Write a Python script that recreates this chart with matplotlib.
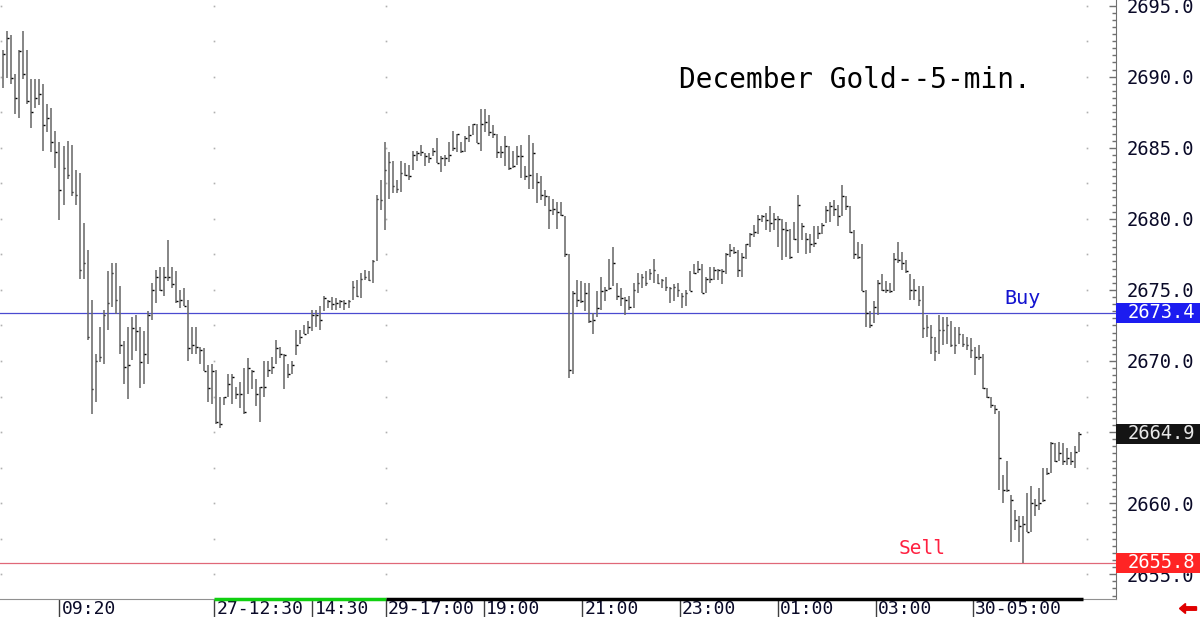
import numpy as np
import matplotlib.pyplot as plt
from matplotlib import transforms
from matplotlib.patches import Rectangle, FancyArrow

# 5-minute bars, December gold (high / low / close)
highs = [
    2691.9, 2693.2, 2692.9, 2690.2, 2691.9, 2693.2, 2691.9, 2689.8, 2689.8, 2689.8,
    2689.5, 2688.1, 2687.8, 2686.2, 2685.4, 2685.1, 2685.5, 2685.2, 2683.4, 2683.2,
    2679.7, 2677.8, 2674.3, 2670.5, 2672.4, 2673.6, 2676.3, 2676.9, 2676.9, 2675.3,
    2671.4, 2672.4, 2673.1, 2673.2, 2672.4, 2672.1, 2673.5, 2675.5, 2676.4, 2676.6,
    2676.6, 2678.5, 2676.6, 2676.3, 2675.0, 2675.1, 2674.3, 2672.4, 2672.4, 2671.0,
    2670.9, 2669.7, 2669.8, 2669.4, 2667.5, 2667.5, 2669.1, 2669.1, 2668.2, 2668.5,
    2669.5, 2670.2, 2669.4, 2668.7, 2668.2, 2670.0, 2670.0, 2670.3, 2671.5, 2671.0,
    2670.5, 2669.8, 2670.0, 2672.2, 2672.2, 2672.5, 2672.8, 2673.6, 2673.6, 2673.9,
    2674.6, 2674.3, 2674.5, 2674.4, 2674.3, 2674.3, 2674.3, 2675.6, 2675.7, 2676.2,
    2676.4, 2676.3, 2677.1, 2681.7, 2682.7, 2685.4, 2684.7, 2684.1, 2682.7, 2684.1,
    2683.9, 2683.8, 2684.8, 2684.8, 2685.2, 2684.6, 2684.6, 2685.0, 2685.7, 2684.4,
    2684.5, 2685.4, 2686.2, 2686.0, 2685.4, 2685.8, 2686.5, 2686.7, 2686.7, 2687.7,
    2687.7, 2687.3, 2686.6, 2686.0, 2685.1, 2685.8, 2685.1, 2684.8, 2685.1, 2685.2,
    2683.7, 2685.9, 2685.3, 2683.2, 2683.0, 2682.0, 2681.6, 2681.4, 2681.2, 2681.2,
    2680.2, 2677.5, 2674.9, 2675.7, 2675.6, 2675.5, 2675.5, 2673.4, 2674.9, 2675.9,
    2675.2, 2677.2, 2678.0, 2675.5, 2675.1, 2674.5, 2674.6, 2675.5, 2676.2, 2676.1,
    2676.3, 2676.5, 2677.2, 2676.1, 2675.8, 2675.9, 2675.2, 2675.4, 2675.5, 2674.8,
    2675.0, 2676.3, 2676.8, 2677.0, 2676.8, 2675.9, 2676.6, 2676.6, 2676.5, 2676.5,
    2677.6, 2678.2, 2678.0, 2677.8, 2677.6, 2678.2, 2679.0, 2679.6, 2680.3, 2680.3,
    2680.4, 2680.9, 2680.4, 2680.2, 2680.0, 2679.8, 2679.3, 2679.8, 2681.7, 2679.7,
    2679.0, 2678.9, 2679.5, 2679.5, 2679.7, 2680.9, 2681.2, 2681.3, 2681.0, 2682.4,
    2681.6, 2680.9, 2679.2, 2678.4, 2678.2, 2675.0, 2673.5, 2674.2, 2675.7, 2676.1,
    2675.6, 2675.5, 2677.6, 2678.4, 2677.7, 2677.1, 2676.1, 2675.8, 2675.3, 2675.3,
    2673.2, 2672.5, 2671.7, 2673.2, 2673.1, 2673.1, 2672.8, 2672.4, 2672.4, 2671.9,
    2671.7, 2671.6, 2671.0, 2671.1, 2670.5, 2668.1, 2667.5, 2666.9, 2666.5, 2662.0,
    2663.0, 2660.6, 2659.5, 2659.1, 2659.1, 2660.7, 2661.2, 2660.3, 2661.1, 2662.5,
    2662.5, 2664.3, 2664.2, 2664.3, 2664.2, 2663.9, 2663.6, 2664.0, 2665.0,
]
lows = [
    2689.2, 2689.9, 2689.5, 2687.4, 2687.1, 2689.8, 2688.1, 2686.4, 2687.8, 2688.0,
    2684.8, 2686.1, 2684.7, 2683.6, 2679.9, 2681.0, 2682.8, 2681.6, 2681.0, 2675.8,
    2675.8, 2671.5, 2666.3, 2667.1, 2669.9, 2669.8, 2672.2, 2673.8, 2673.3, 2670.5,
    2668.4, 2667.3, 2670.1, 2670.7, 2668.1, 2668.4, 2669.8, 2672.9, 2674.1, 2674.9,
    2674.6, 2675.6, 2675.1, 2674.1, 2673.7, 2673.9, 2670.0, 2670.5, 2670.5, 2669.8,
    2669.3, 2667.1, 2667.0, 2665.6, 2665.3, 2666.9, 2667.5, 2667.0, 2667.3, 2666.7,
    2666.3, 2667.7, 2668.0, 2666.8, 2665.7, 2667.5, 2668.9, 2669.1, 2669.8, 2670.2,
    2668.0, 2668.8, 2669.1, 2670.4, 2671.2, 2671.9, 2671.9, 2672.1, 2672.4, 2672.2,
    2673.5, 2673.7, 2673.6, 2673.6, 2673.7, 2673.6, 2673.7, 2674.3, 2674.5, 2674.4,
    2675.7, 2675.6, 2675.5, 2677.0, 2680.6, 2679.2, 2681.4, 2681.8, 2681.8, 2681.9,
    2683.0, 2682.7, 2683.4, 2684.1, 2684.4, 2683.7, 2683.9, 2684.4, 2683.9, 2683.3,
    2683.7, 2684.0, 2684.8, 2684.7, 2684.6, 2684.7, 2685.4, 2685.9, 2685.3, 2684.8,
    2686.1, 2685.8, 2685.7, 2684.3, 2684.3, 2683.7, 2683.4, 2683.6, 2683.8, 2682.9,
    2682.7, 2682.1, 2682.1, 2681.1, 2681.3, 2680.9, 2679.3, 2680.3, 2679.3, 2680.2,
    2677.3, 2668.8, 2669.1, 2673.8, 2674.1, 2673.5, 2672.7, 2671.9, 2673.1, 2673.6,
    2674.2, 2675.0, 2675.3, 2674.3, 2673.9, 2673.2, 2673.6, 2673.7, 2674.8, 2675.1,
    2675.3, 2675.7, 2675.5, 2675.4, 2675.1, 2674.9, 2674.1, 2674.2, 2674.5, 2673.7,
    2673.9, 2674.9, 2676.1, 2676.2, 2674.8, 2674.8, 2675.5, 2675.7, 2675.7, 2675.4,
    2676.1, 2677.3, 2677.5, 2675.9, 2675.9, 2677.2, 2678.0, 2678.7, 2678.9, 2679.8,
    2679.2, 2679.1, 2679.2, 2678.0, 2677.1, 2677.3, 2677.2, 2678.5, 2677.6, 2678.5,
    2677.5, 2677.6, 2678.0, 2678.6, 2678.9, 2679.7, 2679.8, 2680.2, 2679.5, 2680.2,
    2680.6, 2679.0, 2677.2, 2677.2, 2674.9, 2672.4, 2672.3, 2672.7, 2673.2, 2674.9,
    2674.8, 2674.8, 2674.9, 2676.9, 2676.4, 2676.2, 2674.3, 2674.3, 2673.9, 2671.6,
    2671.7, 2670.5, 2670.0, 2670.5, 2671.1, 2671.2, 2671.0, 2670.5, 2671.2, 2671.0,
    2670.8, 2670.2, 2669.0, 2670.1, 2668.0, 2667.4, 2666.7, 2666.3, 2660.9, 2660.0,
    2660.8, 2657.3, 2658.1, 2657.3, 2655.8, 2658.0, 2658.0, 2659.1, 2659.5, 2660.1,
    2662.0, 2662.1, 2662.9, 2663.0, 2662.7, 2662.7, 2662.7, 2662.5, 2663.6,
]
closes = [
    2691.6, 2692.7, 2689.9, 2688.5, 2691.8, 2690.2, 2688.3, 2687.5, 2688.5, 2688.8,
    2686.6, 2687.1, 2685.4, 2684.7, 2682.0, 2683.6, 2683.1, 2681.9, 2681.7, 2676.4,
    2676.9, 2671.7, 2668.0, 2670.0, 2670.3, 2673.2, 2674.1, 2676.2, 2674.3, 2671.1,
    2669.6, 2669.7, 2672.3, 2672.1, 2669.9, 2670.5, 2673.2, 2675.0, 2675.9, 2675.0,
    2675.9, 2675.9, 2675.4, 2674.2, 2674.3, 2673.9, 2670.9, 2671.1, 2671.0, 2670.8,
    2669.3, 2668.1, 2669.3, 2665.7, 2665.6, 2667.5, 2668.4, 2668.9, 2667.7, 2667.7,
    2666.4, 2669.5, 2669.3, 2667.7, 2668.2, 2668.2, 2669.4, 2669.6, 2670.9, 2670.5,
    2670.4, 2669.1, 2669.7, 2671.1, 2671.7, 2671.9, 2672.4, 2673.2, 2673.2, 2672.9,
    2674.4, 2674.2, 2674.0, 2674.1, 2674.2, 2674.1, 2674.2, 2675.2, 2674.6, 2675.8,
    2675.9, 2675.7, 2677.0, 2681.4, 2681.3, 2683.4, 2684.0, 2682.3, 2682.1, 2683.2,
    2683.1, 2683.0, 2684.5, 2684.6, 2684.7, 2684.4, 2684.3, 2684.8, 2683.9, 2684.3,
    2684.3, 2684.5, 2685.0, 2686.0, 2684.8, 2685.7, 2685.9, 2686.7, 2685.3, 2686.7,
    2686.8, 2686.1, 2686.0, 2684.7, 2684.7, 2685.1, 2683.6, 2683.7, 2684.4, 2684.4,
    2683.0, 2683.1, 2684.6, 2682.6, 2681.7, 2681.6, 2680.6, 2680.7, 2680.5, 2680.3,
    2677.5, 2669.4, 2674.8, 2674.3, 2674.2, 2674.8, 2672.8, 2672.9, 2673.7, 2674.9,
    2675.0, 2675.1, 2676.9, 2674.6, 2674.4, 2674.3, 2673.8, 2675.0, 2675.5, 2675.9,
    2675.5, 2676.2, 2676.4, 2675.5, 2675.7, 2675.2, 2675.1, 2675.2, 2675.0, 2674.6,
    2674.8, 2674.9, 2676.2, 2676.5, 2674.8, 2675.8, 2675.8, 2676.4, 2676.4, 2676.3,
    2677.5, 2677.8, 2677.7, 2676.4, 2677.3, 2678.2, 2678.9, 2679.1, 2680.0, 2680.2,
    2679.9, 2679.7, 2680.0, 2680.0, 2679.3, 2679.2, 2677.3, 2678.6, 2681.0, 2679.5,
    2678.6, 2678.2, 2678.3, 2679.0, 2679.6, 2680.6, 2680.9, 2680.7, 2680.2, 2681.6,
    2680.9, 2679.1, 2677.5, 2677.3, 2674.9, 2673.4, 2672.5, 2673.8, 2675.5, 2675.0,
    2675.0, 2674.9, 2677.2, 2677.1, 2676.9, 2676.3, 2675.0, 2675.0, 2674.3, 2672.3,
    2672.4, 2671.7, 2670.7, 2672.2, 2672.2, 2672.5, 2671.1, 2671.1, 2671.9, 2671.2,
    2671.1, 2670.8, 2670.3, 2670.3, 2668.1, 2667.5, 2666.9, 2666.6, 2663.2, 2660.9,
    2660.9, 2660.2, 2658.8, 2658.4, 2658.5, 2658.0, 2660.0, 2659.9, 2660.0, 2660.2,
    2662.1, 2664.2, 2663.0, 2663.5, 2663.0, 2663.2, 2663.0, 2663.6, 2664.9,
]

time_labels = ['09:20', '27-12:30', '14:30', '29-17:00', '19:00',
               '21:00', '23:00', '01:00', '03:00', '30-05:00']
time_pos = [14, 52.6, 77, 95.3, 119.8, 144.2, 168.5, 193, 217.3, 241.6]

buy_level = 2673.4
sell_level = 2655.8
last_price = closes[-1]
title = 'December Gold--5-min.'

plt.rcParams['font.family'] = ['DejaVu Sans Mono']
txt_col = '#0a0a28'
fs = 13.5

fig = plt.figure(figsize=(12, 6.17), dpi=100)
ax = fig.add_axes([0, 18 / 617, 1116 / 1200, 599 / 617])

x = np.arange(len(highs))
ax.vlines(x, lows, highs, color='#6a6a6a', lw=1.15, zorder=3)
ax.hlines(closes, x, x + 0.45, color='black', lw=1.0, zorder=3)

ax.set_xlim(-0.82, 277.2)
ax.set_ylim(2653.26, 2695.39)

# y axis on the right
ax.yaxis.tick_right()
ax.set_yticks(np.arange(2655, 2695.1, 5))
ax.set_yticks(np.arange(2653.5, 2695.3, 0.5), minor=True)
ax.set_yticklabels([f'{v:.1f}' for v in np.arange(2655, 2695.1, 5)])
ax.tick_params(axis='y', which='major', direction='in', length=5, width=1,
               color='#707070', pad=8, labelsize=fs, labelcolor=txt_col)
ax.tick_params(axis='y', which='minor', direction='in', length=3, width=1,
               color='#707070')
ax.set_xticks([])
for s in ['top', 'left']:
    ax.spines[s].set_visible(False)
ax.spines['right'].set_color('#707070')
ax.spines['bottom'].set_color('#909090')

# faint dotted grid marks
trans = transforms.blended_transform_factory(ax.transData, ax.transAxes)
grid_levels = np.arange(2655, 2695.1, 2.5)
for gx in [-0.6, time_pos[1], time_pos[3], len(highs) + 1]:
    ax.plot([gx] * len(grid_levels), grid_levels, ls='none', marker='s',
            ms=1.2, mew=0, color='#b0b0b0', zorder=1)

# session strip on the time axis
ax.plot([time_pos[1], time_pos[3]], [0, 0], transform=trans, color='#10d010',
        lw=2.5, solid_capstyle='butt', clip_on=False, zorder=4)
ax.plot([time_pos[3], len(highs)], [0, 0], transform=trans, color='black',
        lw=2.5, solid_capstyle='butt', clip_on=False, zorder=4)

# time labels with separators
ax.vlines(time_pos, -0.032, 0, transform=trans, color='#404040', lw=1,
          clip_on=False)
for p, lab in zip(time_pos, time_labels):
    ax.text(p + 0.5, -0.0165, lab, transform=trans, ha='left', va='center',
            fontsize=13, color=txt_col, clip_on=False)

# buy / sell levels
ax.axhline(buy_level, color='#4a4ad0', lw=0.9, zorder=2)
ax.axhline(sell_level, color='#e06878', lw=0.9, zorder=2)
ax.text(253.8, buy_level + 0.3, 'Buy', ha='center', va='bottom',
        fontsize=14.5, color='#1414d0')
ax.text(228.9, sell_level + 0.35, 'Sell', ha='center', va='bottom',
        fontsize=14, color='#ff2040')

# price flags on the right
ytr = transforms.blended_transform_factory(ax.transAxes, ax.transData)
box_h = 20 / 14.22
for val, fc, tc in [(buy_level, '#1c1cf0', 'white'),
                    (last_price, '#141414', '#e8e8e8'),
                    (sell_level, '#ff2424', 'white')]:
    ax.add_patch(Rectangle((1.0, val - box_h / 2), 84 / 1116, box_h,
                           transform=ytr, facecolor=fc, edgecolor='none',
                           clip_on=False, zorder=5))
    ax.text(1128 / 1116, val, f'{val:.1f}', transform=ytr, ha='left',
            va='center', fontsize=fs, color=tc, clip_on=False, zorder=6)

ax.text(0.766, 0.866, title, transform=ax.transAxes, ha='center',
        va='center', fontsize=20, color='black')

arrow = FancyArrow(11.965, 0.085, -0.11, 0, width=0.035, head_width=0.1,
                   head_length=0.06, color='#e00000',
                   transform=fig.dpi_scale_trans)
fig.add_artist(arrow)

fig.savefig('out.png', dpi=100)
